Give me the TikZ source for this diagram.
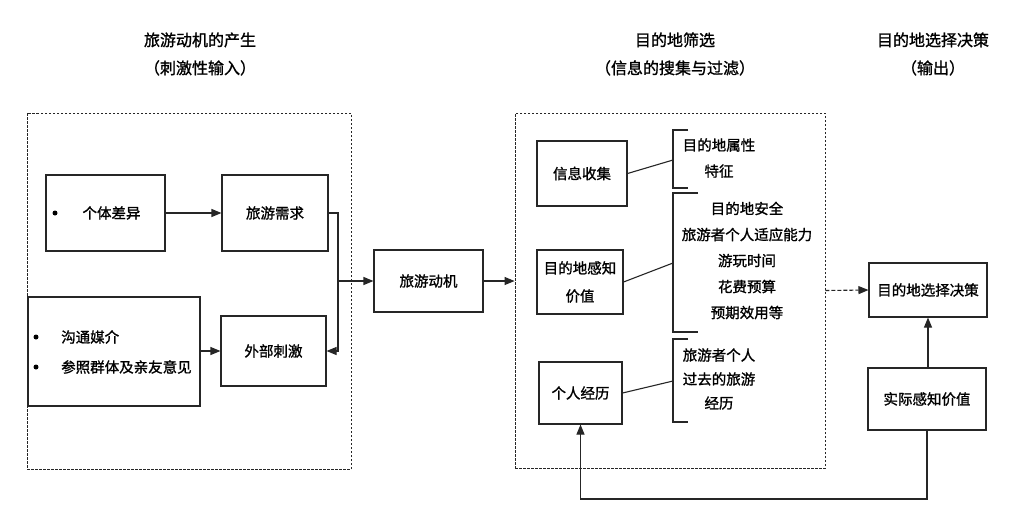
\documentclass[tikz,border=0pt]{standalone}
\usepackage{fontspec}
\setmainfont{Noto Sans CJK SC}[FakeBold=1.2]
\usetikzlibrary{arrows.meta}
\tikzset{
  ink/.style={draw=black!85},
  box/.style={ink, line width=1.1pt, inner sep=0pt, align=center,
              font=\fontsize{14.5}{28}\selectfont},
  grp/.style={ink, dash pattern=on 2.5pt off 1.5pt, line width=0.9pt, inner sep=0pt},
  arr/.style={ink, line width=1.1pt, -{Triangle[length=10pt,width=8pt]}},
  ln/.style={ink, line width=1.1pt},
  lbl/.style={align=center, font=\fontsize{14.5}{26}\selectfont, inner sep=0pt},
  ttl/.style={align=center, font=\fontsize{16}{28}\selectfont, inner sep=0pt},
  dotb/.style={fill=black, circle, inner sep=0pt, minimum size=5pt},
}
\begin{document}
\begin{tikzpicture}[x=1pt,y=-1pt]
\useasboundingbox (0,0) rectangle (1024,520);
\fill[white] (0,0) rectangle (1024,520);

% titles
\node[ttl] (t1) at (200,54) {旅游动机的产生\\（刺激性输入）};
\node[ttl] (t2) at (675,54) {目的地筛选\\（信息的搜集与过滤）};
\node[ttl] (t3) at (933,54) {目的地选择决策\\（输出）};

% group frames
\node[grp, minimum width=324pt, minimum height=356pt] (left) at (189,291) {};
\node[grp, minimum width=310pt, minimum height=355pt] (mid) at (670,290.5) {};

% left part
\node[box, minimum width=119pt, minimum height=76pt] (gtcy) at (105.5,213) {\hspace*{12pt}个体差异};
\node[dotb] (d0) at (55,213) {};
\node[box, minimum width=106pt, minimum height=76pt] (lyxq) at (275,213) {旅游需求};
\node[box, minimum width=172pt, minimum height=109pt] (list) at (114,351.5) {};
\node[dotb] (d1) at (36,337) {};
\node[dotb] (d2) at (36,367) {};
\node[lbl, anchor=west] (l1) at (61,337) {沟通媒介};
\node[lbl, anchor=west] (l2) at (61,367) {参照群体及亲友意见};
\node[box, minimum width=105pt, minimum height=70pt] (wbcj) at (273.5,351) {外部刺激};

% motive
\node[box, minimum width=109pt, minimum height=62pt] (lydj) at (428.5,281) {旅游动机};

% middle part
\node[box, minimum width=90pt, minimum height=65pt] (xxsj) at (582,173.5) {信息收集};
\node[box, minimum width=86pt, minimum height=64pt] (gzjz) at (580,282) {目的地感知\\价值};
\node[box, minimum width=83pt, minimum height=62pt] (grjl) at (580.5,393) {个人经历};

% brackets
\coordinate (b1) at (673,160);
\coordinate (b2) at (673,263);
\coordinate (b3) at (673,381);
\draw[ln] (688,130) -- (673,130) -- (673,188) -- (688,188);
\draw[ln] (698,193) -- (673,193) -- (673,332) -- (698,332);
\draw[ln] (688,339) -- (673,339) -- (673,422) -- (688,422);
\draw[ln] (xxsj.east) -- (b1);
\draw[ln] (gzjz.east) -- (b2);
\draw[ln] (grjl.east) -- (b3);
\node[lbl] (a1) at (719,158) {目的地属性\\特征};
\node[lbl] (a2) at (747,260.5) {目的地安全\\旅游者个人适应能力\\游玩时间\\花费预算\\预期效用等};
\node[lbl, font=\fontsize{14.5}{24}\selectfont] (a3) at (719,379) {旅游者个人\\过去的旅游\\经历};

% right part
\node[box, minimum width=118pt, minimum height=54pt] (jc) at (928,290) {目的地选择决策};
\node[box, minimum width=118pt, minimum height=62pt] (sj) at (927,399) {实际感知价值};

% connectors
\coordinate (j) at (338,281);
\coordinate (fb) at (927,499);
\draw[arr] (gtcy.east) -- (lyxq.west);
\draw[arr] (lyxq.east) -| (j) |- (wbcj.east);
\draw[arr] (list.east |- wbcj.west) -- (wbcj.west);
\draw[arr] (j) -- (lydj.west);
\draw[arr] (lydj.east) -- (mid.west |- lydj.east);
\draw[arr, dash pattern=on 4pt off 2pt] (mid.east) -- (jc.west);
\draw[arr] (sj.north -| jc.south) -- (jc.south);
\draw[arr] (sj.south) -- (fb) -| (grjl.south);
\end{tikzpicture}
\end{document}
